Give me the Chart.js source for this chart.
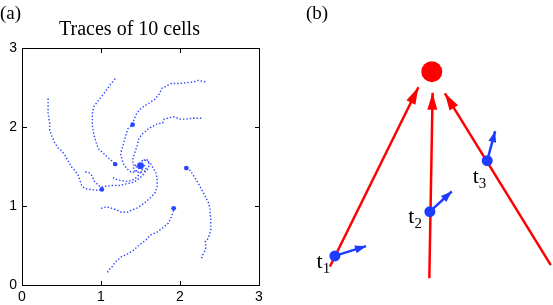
<!DOCTYPE html>
<html lang="en">
<head>
<meta charset="UTF-8">
<title>Traces of 10 cells</title>
<script src="https://cdn.jsdelivr.net/npm/chart.js"></script>
<style>
  html, body { margin: 0; padding: 0; background: #fff; }
  #wrap { position: relative; width: 553px; height: 305px; overflow: hidden; }
  canvas { position: absolute; top: 0; }
  #tracesChart { left: 0; }
  #sketchChart { left: 280px; }
  .frame { position: absolute; box-sizing: border-box; border: 1px solid #000; pointer-events: none; }
  .tick { position: absolute; background: #000; pointer-events: none; }
</style>
</head>
<body>
<div id="wrap">
  <canvas id="tracesChart" width="280" height="305"></canvas>
  <canvas id="sketchChart" width="273" height="305"></canvas>
</div>
<script>
// ---- panel (a): traces of 10 cells ----
const xTickLabels = [0, 1, 2, 3];
const yTickLabels = [0, 1, 2, 3];

const trace1 = [[0.33,2.36],[0.33,2.27],[0.33,2.17],[0.35,2.05],[0.35,1.96],[0.38,1.88],[0.42,1.79],[0.46,1.73],[0.50,1.70],[0.54,1.65],[0.59,1.56],[0.63,1.49],[0.67,1.45],[0.71,1.39],[0.73,1.33],[0.76,1.25],[0.80,1.22],[0.86,1.21],[0.95,1.20],[1.01,1.21]];
const trace2 = [[1.18,2.61],[1.12,2.54],[1.05,2.44],[0.97,2.34],[0.91,2.26],[0.89,2.17],[0.89,2.02],[0.91,1.90],[0.94,1.80],[0.97,1.72],[1.03,1.67],[1.09,1.61],[1.14,1.57],[1.18,1.53]];
const trace3 = [[0.80,1.43],[0.85,1.42],[0.89,1.38],[0.91,1.32],[0.95,1.28],[0.99,1.24],[1.06,1.25],[1.14,1.26],[1.24,1.26],[1.32,1.28],[1.41,1.30],[1.47,1.34],[1.52,1.38],[1.56,1.43],[1.57,1.48],[1.54,1.52]];
const trace4 = [[1.00,0.97],[1.07,0.99],[1.14,0.97],[1.20,0.95],[1.26,0.92],[1.33,0.92],[1.39,0.95],[1.45,0.97],[1.54,1.03],[1.62,1.10],[1.68,1.16],[1.71,1.24],[1.71,1.33],[1.70,1.41],[1.66,1.48],[1.62,1.55],[1.57,1.58],[1.52,1.57],[1.49,1.51]];
const trace5 = [[1.08,0.16],[1.11,0.20],[1.14,0.23],[1.18,0.29],[1.26,0.36],[1.35,0.40],[1.41,0.44],[1.49,0.51],[1.57,0.57],[1.62,0.63],[1.71,0.67],[1.79,0.73],[1.85,0.78],[1.89,0.86],[1.92,0.95]];
const trace6 = [[2.08,1.48],[2.13,1.45],[2.18,1.37],[2.23,1.29],[2.29,1.18],[2.32,1.12],[2.36,1.04],[2.38,0.97],[2.38,0.91],[2.39,0.84],[2.39,0.70],[2.37,0.63],[2.35,0.58],[2.32,0.55],[2.33,0.48],[2.31,0.42],[2.28,0.37],[2.27,0.32]];
const trace7 = [[2.32,2.57],[2.23,2.59],[2.17,2.57],[2.08,2.56],[1.98,2.55],[1.89,2.55],[1.83,2.52],[1.77,2.49],[1.74,2.42],[1.68,2.35],[1.62,2.31],[1.54,2.26],[1.49,2.22],[1.45,2.17],[1.42,2.10],[1.40,2.03],[1.34,1.98],[1.31,1.88],[1.28,1.77],[1.26,1.71],[1.25,1.65],[1.27,1.58],[1.29,1.52],[1.33,1.47],[1.39,1.42],[1.44,1.44],[1.49,1.49]];
const trace8 = [[2.27,2.11],[2.21,2.11],[2.15,2.11],[2.08,2.10],[2.00,2.10],[1.92,2.13],[1.84,2.11],[1.80,2.10],[1.78,2.05],[1.71,2.04],[1.64,2.00],[1.60,1.98],[1.56,1.94],[1.52,1.91],[1.48,1.85],[1.46,1.77],[1.44,1.71],[1.41,1.62],[1.40,1.58],[1.41,1.52],[1.46,1.49],[1.49,1.51]];
const trace9 = [[1.15,1.36],[1.21,1.33],[1.28,1.32],[1.34,1.31],[1.40,1.33],[1.45,1.36],[1.49,1.41],[1.52,1.46],[1.50,1.50]];
const trace10 = [[1.54,1.58],[1.58,1.59],[1.60,1.56],[1.61,1.52],[1.60,1.48],[1.58,1.45],[1.55,1.44],[1.52,1.43],[1.47,1.43],[1.43,1.44],[1.41,1.47],[1.42,1.50],[1.45,1.52],[1.49,1.51]];
const traces = [trace1, trace2, trace3, trace4, trace5, trace6, trace7, trace8, trace9, trace10];

// spots where a cell sat still (dense clusters of points)
const pauseX = [1.01, 1.18, 1.40, 1.50, 1.92, 2.08];
const pauseY = [1.21, 1.53, 2.03, 1.51, 0.97, 1.48];

// ---- panel (b): sketch ----
const target = [5.56, 7.65];
const lineStarts = [[1.83,1.26],[5.47,0.88],[9.92,1.31]];
const lineTips = [[5.07,7.14],[5.59,6.96],[6.04,6.94]];
const cellPos = [[2.01,1.61],[5.49,3.06],[7.59,4.73]];
const velocityTips = [[3.15,1.93],[6.29,3.72],[7.88,5.70]];
const timeSubs = ['1', '2', '3'];
const labelAnchors = [[1.34,1.21],[4.70,2.70],[7.06,4.01]];

const TRACE_BLUE = 'rgb(40,70,255)';
const BLUE = 'rgb(30,60,255)';
const RED = 'rgb(255,0,0)';
const SERIF = '"Liberation Serif", "Times New Roman", serif';
const SANS = '"Liberation Sans", Arial, Helvetica, sans-serif';

const toPts = arr => arr.map(p => ({ x: p[0], y: p[1] }));

const panelLabelA = {
  id: 'panelLabelA',
  afterDraw(chart) {
    const ctx = chart.ctx;
    ctx.save();
    ctx.fillStyle = '#000';
    ctx.font = '19px ' + SERIF;
    ctx.textBaseline = 'alphabetic';
    ctx.fillText('(a)', 0, 19);
    ctx.restore();
  }
};

const traceSets = traces.map(t => ({
  data: toPts(t),
  showLine: true,
  borderColor: TRACE_BLUE,
  borderWidth: 1.4,
  borderDash: [1.4, 2],
  borderCapStyle: 'butt',
  pointRadius: 0,
  tension: 0
}));

const tracesChart = new Chart(document.getElementById('tracesChart'), {
  type: 'scatter',
  data: {
    datasets: [{
      data: pauseX.map((x, i) => ({ x: x, y: pauseY[i] })),
      pointRadius: [2.4, 2.2, 2.4, 3.4, 2.4, 2.4],
      pointBackgroundColor: TRACE_BLUE,
      pointBorderWidth: 0
    }].concat(traceSets)
  },
  options: {
    responsive: false,
    animation: false,
    layout: { autoPadding: false, padding: { top: 0, right: 21, bottom: 0, left: 0 } },
    plugins: {
      legend: { display: false },
      tooltip: { enabled: false },
      title: {
        display: true,
        text: 'Traces of 10 cells',
        color: '#000',
        font: { family: SERIF, size: 20, weight: 'normal', lineHeight: 1.2 },
        padding: { top: 18, bottom: 6 }
      }
    },
    scales: {
      x: {
        type: 'linear', min: 0, max: 3,
        afterBuildTicks: s => { s.ticks = xTickLabels.map(v => ({ value: v })); },
        afterFit: s => { s.height = 20; },
        grid: { display: false, drawTicks: false },
        border: { display: true, color: '#000', width: 1 },
        ticks: { color: '#000', padding: 4, maxRotation: 0, font: { family: SANS, size: 14 } }
      },
      y: {
        type: 'linear', min: 0, max: 3,
        afterBuildTicks: s => { s.ticks = yTickLabels.map(v => ({ value: v })); },
        afterFit: s => { s.width = 22; },
        grid: { display: false, drawTicks: false },
        border: { display: true, color: '#000', width: 1 },
        ticks: { color: '#000', padding: 5, font: { family: SANS, size: 14 } }
      }
    }
  },
  plugins: [panelLabelA]
});

// MATLAB-style closed box with inward ticks, placed from the chart's own scales
(function addFrame(chart) {
  const wrap = document.getElementById('wrap');
  const sx = chart.scales.x, sy = chart.scales.y;
  const num = (v, d) => (Number.isFinite(v) ? Math.round(v) : d);
  const L = num(sx.left, 22), R = num(sx.right, 259);
  const T = num(sy.top, 48), B = num(sy.bottom, 285);
  const frame = document.createElement('div');
  frame.className = 'frame';
  Object.assign(frame.style, { left: L + 'px', top: T + 'px', width: (R - L + 1) + 'px', height: (B - T + 1) + 'px' });
  wrap.appendChild(frame);
  const tick = (x, y, w, h) => {
    const d = document.createElement('div');
    d.className = 'tick';
    Object.assign(d.style, { left: x + 'px', top: y + 'px', width: w + 'px', height: h + 'px' });
    wrap.appendChild(d);
  };
  xTickLabels.forEach(v => {
    const px = num(sx.getPixelForValue(v), L);
    tick(px, B - 4, 1, 4);
    tick(px, T + 1, 1, 4);
  });
  yTickLabels.forEach(v => {
    const py = num(sy.getPixelForValue(v), B);
    tick(L + 1, py, 4, 1);
    tick(R - 4, py, 4, 1);
  });
})(tracesChart);

// arrow heads and the t labels for panel (b)
const sketchPlugin = {
  id: 'sketch',
  afterDatasetsDraw(chart) {
    const { ctx, scales } = chart;
    ctx.save();
    chart.data.datasets.forEach((ds, i) => {
      if (!ds.arrow) return;
      const pts = chart.getDatasetMeta(i).data;
      const a = pts[0], b = pts[pts.length - 1];
      const ang = Math.atan2(b.y - a.y, b.x - a.x);
      const len = ds.arrow.len, half = ds.arrow.half;
      ctx.fillStyle = ds.borderColor;
      ctx.beginPath();
      ctx.moveTo(b.x, b.y);
      ctx.lineTo(b.x - len * Math.cos(ang) + half * Math.sin(ang), b.y - len * Math.sin(ang) - half * Math.cos(ang));
      ctx.lineTo(b.x - len * Math.cos(ang) - half * Math.sin(ang), b.y - len * Math.sin(ang) + half * Math.cos(ang));
      ctx.closePath();
      ctx.fill();
    });
    ctx.fillStyle = '#000';
    ctx.textBaseline = 'alphabetic';
    labelAnchors.forEach((p, i) => {
      const px = scales.x.getPixelForValue(p[0]);
      const py = scales.y.getPixelForValue(p[1]);
      ctx.font = '22px ' + SERIF;
      ctx.fillText('t', px, py);
      const w = ctx.measureText('t').width;
      ctx.font = '15px ' + SERIF;
      ctx.fillText(timeSubs[i], px + w, py + 5);
    });
    ctx.font = '19px ' + SERIF;
    ctx.fillText('(b)', 26, 19);
    ctx.restore();
  }
};

const sketchSets = [
  { data: toPts(cellPos), pointRadius: 5.5, pointBackgroundColor: BLUE, pointBorderWidth: 0 },
  { data: toPts([target]), pointRadius: 10.5, pointBackgroundColor: RED, pointBorderWidth: 0 }
];
cellPos.forEach((p, i) => sketchSets.push({
  data: toPts([p, velocityTips[i]]), showLine: true, borderColor: BLUE, borderWidth: 2.5,
  pointRadius: 0, arrow: { len: 11, half: 4 }
}));
lineStarts.forEach((p, i) => sketchSets.push({
  data: toPts([p, lineTips[i]]), showLine: true, borderColor: RED, borderWidth: 2.5,
  pointRadius: 0, arrow: { len: 17, half: 5 }
}));

new Chart(document.getElementById('sketchChart'), {
  type: 'scatter',
  data: { datasets: sketchSets },
  options: {
    responsive: false,
    animation: false,
    layout: { autoPadding: false, padding: 0 },
    plugins: { legend: { display: false }, tooltip: { enabled: false } },
    scales: {
      x: { type: 'linear', min: 0, max: 10, display: false },
      y: { type: 'linear', min: 0, max: 10, display: false }
    }
  },
  plugins: [sketchPlugin]
});
</script>
</body>
</html>
